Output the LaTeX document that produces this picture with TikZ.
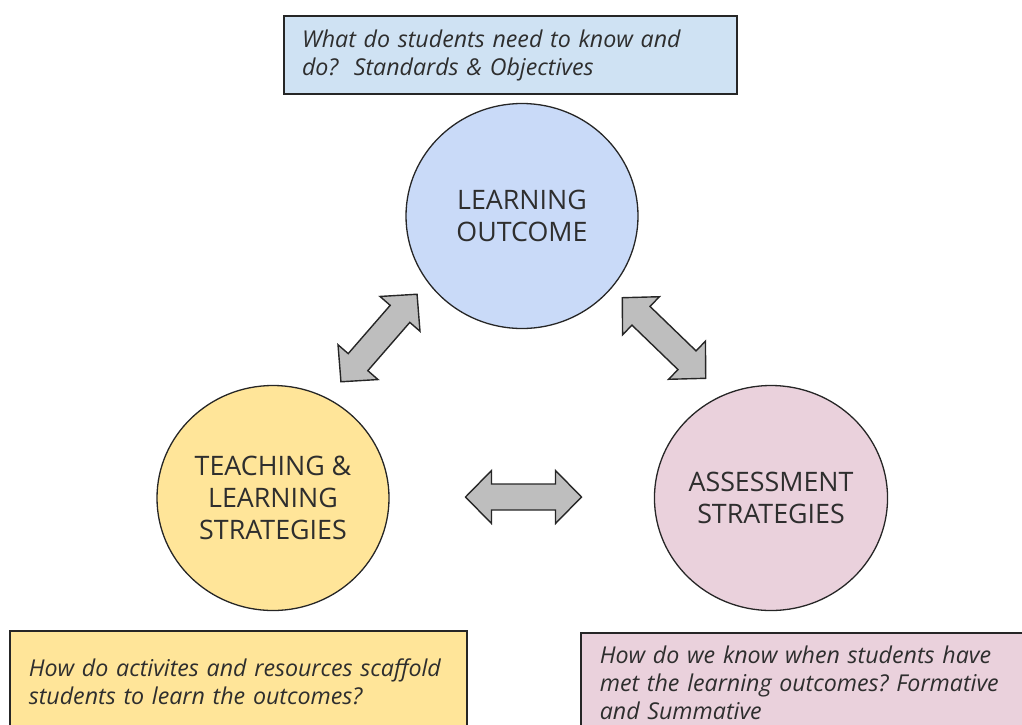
\documentclass[tikz,border=0pt]{standalone}
\usepackage{fontspec}
\setmainfont{Open Sans}
\usetikzlibrary{shapes.geometric}

\definecolor{knowblue}{HTML}{CFE2F3}
\definecolor{outcomeblue}{HTML}{C9DAF8}
\definecolor{teachyellow}{HTML}{FFE599}
\definecolor{assesspink}{HTML}{EAD1DC}
\definecolor{arrowgray}{HTML}{BEBEBE}

\frenchspacing

\begin{document}
\begin{tikzpicture}[
    x = 1pt, y = -1pt,
    hub/.style = {draw=black!85, line width=1.3pt, ellipse,
      minimum width=232pt, minimum height=225pt, inner sep=0pt,
      align=center, text=black!82, font=\fontsize{26.8}{32}\selectfont},
    note/.style = {draw=black!85, line width=1.6pt, rectangle,
      align=left, inner ysep=0pt, text=black!82,
      font=\fontsize{23.2}{28}\selectfont\itshape},
    pics/twoway/.style = {code={
      \draw[fill=arrowgray, draw=black!85, line width=1.4pt]
        (-58,0) -- (-32,-26.5) -- (-32,-13) -- (32,-13) -- (32,-26.5)
        -- (58,0) -- (32,26.5) -- (32,13) -- (-32,13) -- (-32,26.5) -- cycle;
    }}
    ]
    \useasboundingbox (0,0) rectangle (1022,724);
    \clip (0,0) rectangle (1022,724);

    % the three parts of the alignment
    \node[hub, fill=outcomeblue] (outcome) at (522,216) {LEARNING\\OUTCOME};
    \node[hub, fill=teachyellow] (teaching) at (273,498)
      {TEACHING \&\\LEARNING\\STRATEGIES};
    \node[hub, fill=assesspink] (assessment) at (771,498)
      {ASSESSMENT\\STRATEGIES};

    % questions
    \node[note, fill=knowblue, minimum width=453pt, minimum height=78pt,
      text width=417pt, inner xsep=18pt] (know) at (510.5,55)
      {What do students need to know and\\do?\ \ Standards \& Objectives};
    \node[note, fill=teachyellow, anchor=north west, minimum width=457pt,
      minimum height=102pt, text width=419pt, inner xsep=19pt] (scaffold)
      at (9,630)
      {How do activites and resources scaffold\\students to learn the outcomes?};
    \node[note, fill=assesspink, anchor=north west, minimum width=480pt,
      minimum height=99pt, text width=442pt, inner xsep=19pt] (evidence)
      at (580,632)
      {How do we know when students have\\met the learning outcomes? Formative\\and Summative};

    % two-way links
    \pic[rotate=49] at (379,338) {twoway};
    \pic[rotate=-44] at (664,338) {twoway};
    \pic at (523.5,497) {twoway};
\end{tikzpicture}
\end{document}
